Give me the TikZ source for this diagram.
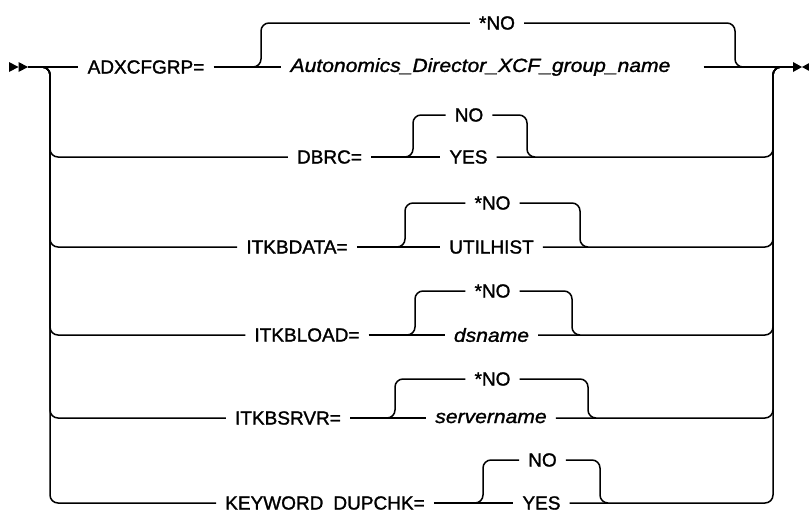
\documentclass[tikz,border=0pt]{standalone}
\usepackage{fontspec}
\setmainfont{Liberation Sans}[FakeBold=1.4]
\newfontfamily\varfont{Liberation Sans}[FakeStretch=1.11, FakeBold=1.4]
\usetikzlibrary{positioning}

\begin{document}
\begin{tikzpicture}[
  x=1pt, y=-1pt,
  rail/.style={line width=1.5pt, rounded corners=8pt},
  kw/.style={inner xsep=9pt, inner ysep=1pt, font=\fontsize{19}{22}\selectfont},
  var/.style={kw, font=\fontsize{19}{22}\selectfont\varfont\itshape},
  tipmark/.style={fill=black}
]
\useasboundingbox (0,0) rectangle (809,512);

\coordinate (start) at (28,67);
\coordinate (lsplit) at (50,67);
\coordinate (rjoin) at (773,67);
\coordinate (finish) at (793,67);

\node[kw] (adx) at (146,67) {ADXCFGRP=};
\node[kw] (adxno) at (497,23) {*NO};
\node[var] (adxname) at (480.5,67) {Autonomics\_Director\_XCF\_group\_name};
\coordinate (adxsplit) at (253,67);
\coordinate (adxmerge) at (735,67);

\node[kw] (dbrc) at (329.5,157) {DBRC=};
\node[kw] (dbrcno) at (469,115) {NO};
\node[kw] (dbrcyes) at (468.5,157) {YES};
\coordinate (dbrcsplit) at (405,157);
\coordinate (dbrcmerge) at (527,157);

\node[kw] (itkbdata) at (297,247) {ITKBDATA=};
\node[kw] (itkbdatano) at (492.5,203) {*NO};
\node[kw] (utilhist) at (491.5,247) {UTILHIST};
\coordinate (itkbdatasplit) at (397,247);
\coordinate (itkbdatamerge) at (580,247);

\node[kw] (itkbload) at (307,335) {ITKBLOAD=};
\node[kw] (itkbloadno) at (492.5,291) {*NO};
\node[var] (dsname) at (491.5,335) {dsname};
\coordinate (itkbloadsplit) at (407,335);
\coordinate (itkbloadmerge) at (572,335);

\node[kw] (itkbsrvr) at (288,418) {ITKBSRVR=};
\node[kw] (itkbsrvrno) at (492.5,379) {*NO};
\node[var] (servername) at (491,418) {servername};
\coordinate (itkbsrvrsplit) at (387,418);
\coordinate (itkbsrvrmerge) at (588,418);

\node[kw] (dupchk) at (325,503) {KEYWORD\hspace{10pt}DUPCHK=};
\node[kw] (dupchkno) at (542.5,460) {NO};
\node[kw] (dupchkyes) at (541.5,503) {YES};
\coordinate (dupchksplit) at (475,503);
\coordinate (dupchkmerge) at (600,503);

\fill[tipmark] (9,62) -- (18.5,67) -- (9,72) -- cycle;
\fill[tipmark] (18.5,62) -- (28,67) -- (18.5,72) -- cycle;
\fill[tipmark] (793,62) -- (802,67) -- (793,72) -- cycle;
\fill[tipmark] (811,62) -- (802,67) -- (811,72) -- cycle;

\draw[rail] (start) -- (adx.west);
\draw[rail] (adx.east) -- (adxname.west);
\draw[rail] ([xshift=24pt]adxname.east) -- (finish);
\draw[rail] (adxsplit) -- ++(8,0) |- (adxno.west);
\draw[rail] (adxno.east) -| (adxmerge) -- ++(8,0);

\foreach \kw/\up/\low/\split/\merge in {dbrc/dbrcno/dbrcyes/dbrcsplit/dbrcmerge,
    itkbdata/itkbdatano/utilhist/itkbdatasplit/itkbdatamerge,
    itkbload/itkbloadno/dsname/itkbloadsplit/itkbloadmerge,
    itkbsrvr/itkbsrvrno/servername/itkbsrvrsplit/itkbsrvrmerge,
    dupchk/dupchkno/dupchkyes/dupchksplit/dupchkmerge}{
  \draw[rail] (start) -- (lsplit) |- (\kw.west);
  \draw[rail] (\kw.east) -- (\low.west);
  \draw[rail] (\split) -- ++(8,0) |- (\up.west);
  \draw[rail] (\up.east) -| (\merge) -- ++(8,0);
  \draw[rail] (\low.east) -| (rjoin) -- (finish);
}
\end{tikzpicture}
\end{document}
